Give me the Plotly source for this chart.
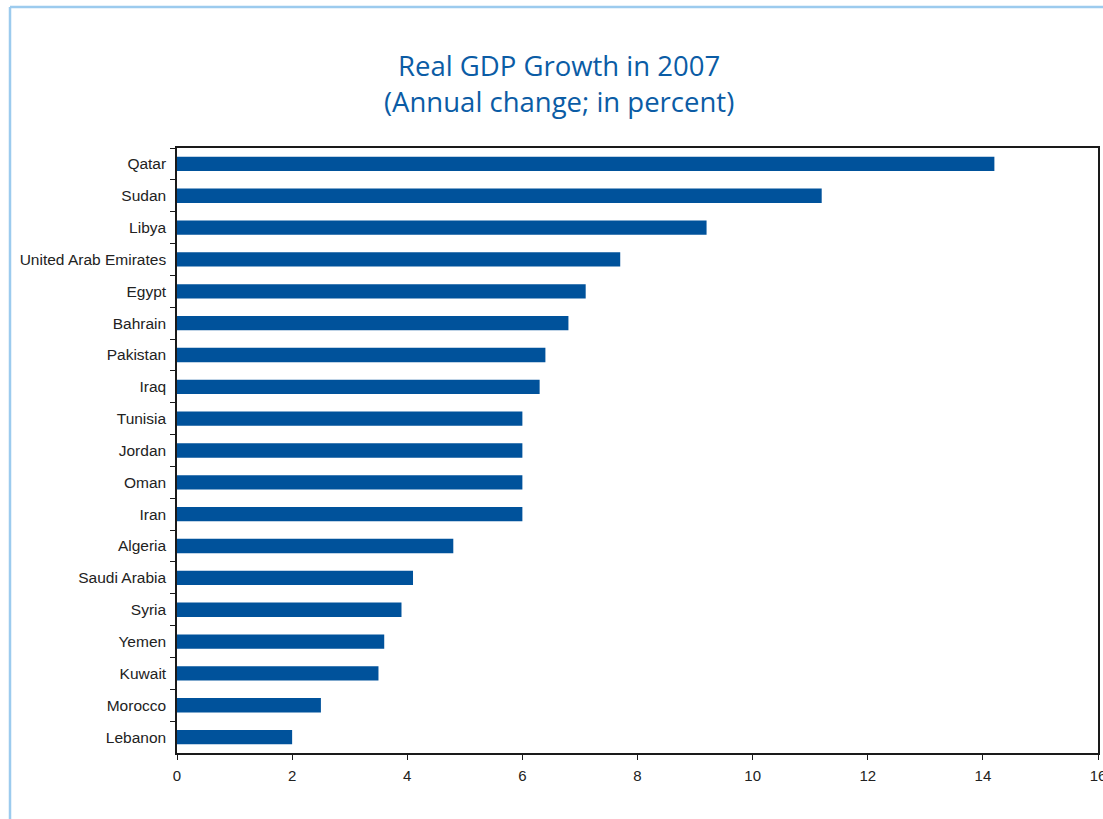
import plotly.graph_objects as go

# Real GDP growth, 2007 (annual change, percent)
countries = [
    "Qatar", "Sudan", "Libya", "United Arab Emirates", "Egypt", "Bahrain",
    "Pakistan", "Iraq", "Tunisia", "Jordan", "Oman", "Iran", "Algeria",
    "Saudi Arabia", "Syria", "Yemen", "Kuwait", "Morocco", "Lebanon",
]
growth = [14.2, 11.2, 9.2, 7.7, 7.1, 6.8, 6.4, 6.3, 6.0, 6.0, 6.0, 6.0,
          4.8, 4.1, 3.9, 3.6, 3.5, 2.5, 2.0]
x_ticks = [0, 2, 4, 6, 8, 10, 12, 14, 16]
title_lines = ["Real GDP Growth in 2007", "(Annual change; in percent)"]

W, H = 1103, 819
L, R, T, B = 177, 5, 148, 66
plot_w = W - L - R
plot_h = H - T - B

bar_color = "#00529B"
title_color = "#0B5CA5"
frame_color = "#1a1a1a"
border_color = "#9CCBEE"


def px_x(p):
    return (p - L) / plot_w


def px_y(p):
    return (T + plot_h - p) / plot_h


fig = go.Figure(
    go.Bar(
        x=growth,
        y=countries,
        orientation="h",
        marker=dict(color=bar_color, line=dict(width=0)),
        width=0.45,
    )
)

fig.update_layout(
    width=W,
    height=H,
    margin=dict(l=L, r=R, t=T, b=B, autoexpand=False),
    paper_bgcolor="white",
    plot_bgcolor="white",
    showlegend=False,
    font=dict(family="Liberation Sans, Arial", size=15.5, color="#222"),
)

# two-line title
fig.add_annotation(
    text="<br>".join(title_lines), xref="paper", yref="paper",
    x=px_x(559), y=px_y(83.5), xanchor="center", yanchor="middle",
    showarrow=False, align="center",
    font=dict(family="Open Sans", size=27.5, color=title_color),
)

fig.update_xaxes(
    range=[0, 16],
    tickvals=x_ticks,
    ticktext=[str(v) for v in x_ticks],
    showgrid=False,
    zeroline=False,
    showline=True,
    mirror=True,
    linecolor=frame_color,
    linewidth=1.5,
    ticks="outside",
    ticklen=5,
    tickwidth=1,
    tickcolor=frame_color,
    ticklabelstandoff=3,
    ticklabeloverflow="allow",
    automargin=False,
    tickfont=dict(size=15, color="#222"),
)

fig.update_yaxes(
    type="category",
    categoryorder="array",
    categoryarray=countries,
    autorange="reversed",
    tickson="boundaries",
    showgrid=False,
    zeroline=False,
    showline=True,
    mirror=True,
    linecolor=frame_color,
    linewidth=1.5,
    ticks="outside",
    ticklen=5,
    tickwidth=1,
    tickcolor=frame_color,
    ticklabelstandoff=6,
    automargin=False,
    tickfont=dict(size=15.5, color="#222"),
)

# light blue page border along the top and left edges
fig.add_shape(type="line", xref="paper", yref="paper",
              x0=px_x(10), x1=px_x(W + 5), y0=px_y(7), y1=px_y(7),
              line=dict(color=border_color, width=2.5))
fig.add_shape(type="line", xref="paper", yref="paper",
              x0=px_x(10), x1=px_x(10), y0=px_y(7), y1=px_y(H + 5),
              line=dict(color=border_color, width=2.5))

fig.write_html("out.html")
